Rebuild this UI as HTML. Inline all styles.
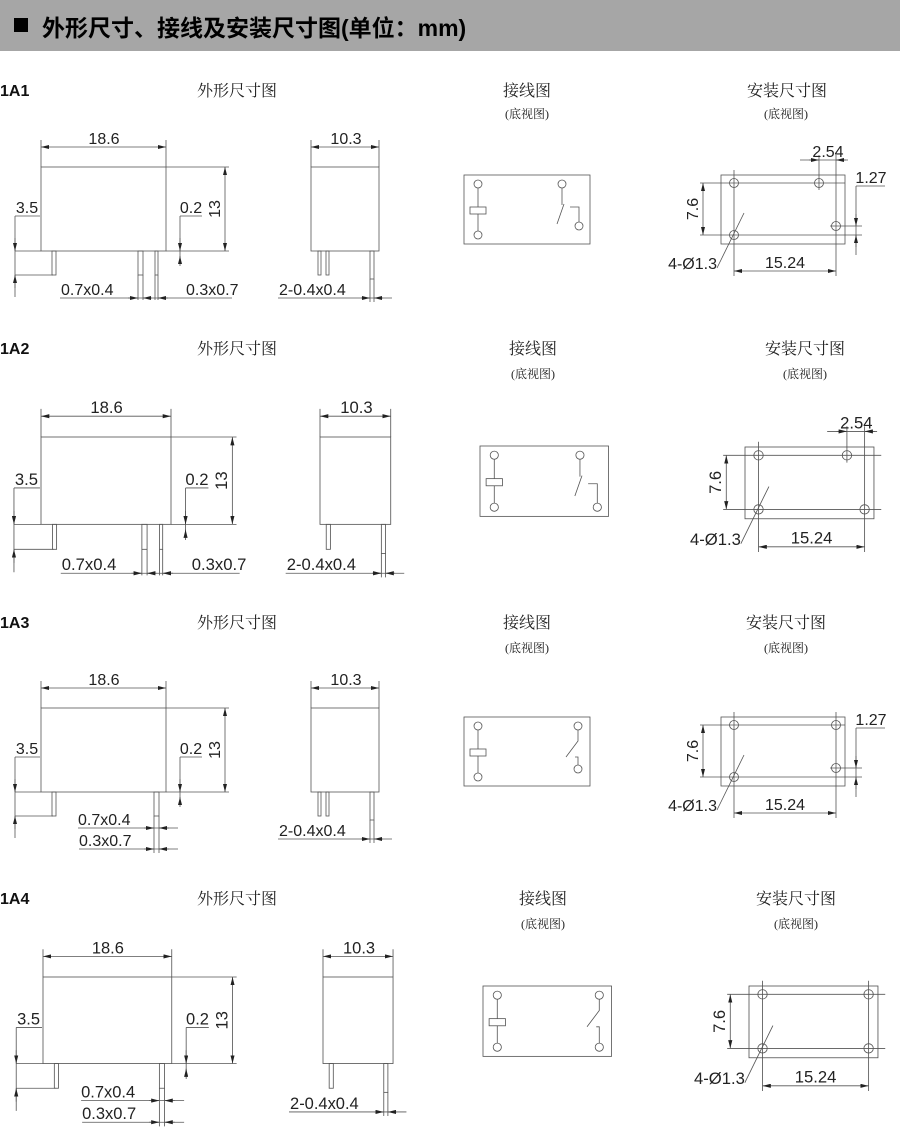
<!DOCTYPE html>
<html><head><meta charset="utf-8"><style>
html,body{margin:0;padding:0;background:#fff;}
svg{display:block;}
.d{font-family:"Liberation Sans Narrow","Liberation Sans",sans-serif;font-size:16px;fill:#222;}
.t{font-family:"Liberation Serif","Noto Serif CJK SC",serif;font-size:16px;fill:#222;}
.s{font-family:"Liberation Serif","Noto Serif CJK SC",serif;font-size:12px;fill:#222;}
.l{font-family:"Liberation Sans",sans-serif;font-size:16px;font-weight:bold;fill:#111;}
</style></head><body>
<svg width="900" height="1139" viewBox="0 0 900 1139" xmlns="http://www.w3.org/2000/svg">
<defs>
<marker id="a" viewBox="0 0 8 4" refX="8" refY="2" markerWidth="8" markerHeight="4" markerUnits="userSpaceOnUse" orient="auto-start-reverse"><path d="M0,0L8,2L0,4z" fill="#222"/></marker>
</defs>
<rect x="0" y="0" width="900" height="51" fill="#a6a6a6"/>
<rect x="14" y="18" width="14" height="14" fill="#000"/>
<text x="42" y="36" style="font-family:'Liberation Sans','Noto Sans CJK SC',sans-serif;font-size:23px;font-weight:bold;fill:#000">外形尺寸、接线及安装尺寸图(单位：mm)</text>

<!-- titles -->
<g>
<text class="l" x="0" y="96">1A1</text>
<text class="t" x="197" y="96">外形尺寸图</text>
<text class="t" x="527" y="96" text-anchor="middle">接线图</text>
<text class="t" x="787" y="96" text-anchor="middle">安装尺寸图</text>
<text class="s" x="527" y="118" text-anchor="middle">(底视图)</text>
<text class="s" x="786" y="118" text-anchor="middle">(底视图)</text>

<text class="l" x="0" y="354">1A2</text>
<text class="t" x="197" y="354">外形尺寸图</text>
<text class="t" x="533" y="354" text-anchor="middle">接线图</text>
<text class="t" x="805" y="354" text-anchor="middle">安装尺寸图</text>
<text class="s" x="533" y="378" text-anchor="middle">(底视图)</text>
<text class="s" x="805" y="378" text-anchor="middle">(底视图)</text>

<text class="l" x="0" y="628">1A3</text>
<text class="t" x="197" y="628">外形尺寸图</text>
<text class="t" x="527" y="628" text-anchor="middle">接线图</text>
<text class="t" x="786" y="628" text-anchor="middle">安装尺寸图</text>
<text class="s" x="527" y="652" text-anchor="middle">(底视图)</text>
<text class="s" x="786" y="652" text-anchor="middle">(底视图)</text>

<text class="l" x="0" y="904">1A4</text>
<text class="t" x="197" y="904">外形尺寸图</text>
<text class="t" x="543" y="904" text-anchor="middle">接线图</text>
<text class="t" x="796" y="904" text-anchor="middle">安装尺寸图</text>
<text class="s" x="543" y="928" text-anchor="middle">(底视图)</text>
<text class="s" x="796" y="928" text-anchor="middle">(底视图)</text>
</g>

<!-- ===== ROW 1 ===== -->
<g fill="none" stroke="#555" stroke-width="0.8">
 <!-- front A -->
 <g id="fa" fill="none" stroke="#555" stroke-width="0.8">
  <rect x="41" y="167" width="125" height="84"/>
  <path d="M41 140V167M166 140V167M166 167H229M166 251H229"/>
  <line x1="41" y1="147" x2="166" y2="147" marker-start="url(#a)" marker-end="url(#a)"/>
  <line x1="225" y1="167" x2="225" y2="251" marker-start="url(#a)" marker-end="url(#a)"/>
  <rect x="52" y="251" width="4" height="24"/>
  <rect x="138" y="251" width="5" height="24"/>
  <rect x="155" y="251" width="3" height="24"/>
  <path d="M15 216H40M15 216V297M15 251H41M15 275H53"/>
  <line x1="15" y1="238" x2="15" y2="251" marker-end="url(#a)"/>
  <line x1="15" y1="288" x2="15" y2="275" marker-end="url(#a)"/>
  <path d="M180 216H202M180 216V262"/>
  <line x1="180" y1="238" x2="180" y2="251" marker-end="url(#a)"/>
  <line x1="180" y1="266" x2="180" y2="256" marker-end="url(#a)"/>
  <path d="M138 275V300M143 275V300M155 275V300M158 275V300M60 298H232"/>
  <line x1="128" y1="298" x2="138" y2="298" marker-end="url(#a)"/>
  <line x1="152" y1="298" x2="143" y2="298" marker-end="url(#a)"/>
  <line x1="168" y1="298" x2="158" y2="298" marker-end="url(#a)"/>
 </g>
 <!-- side A -->
 <g>
  <rect x="311" y="167" width="68" height="84"/>
  <path d="M311 140V167M379 140V167"/>
  <line x1="311" y1="147" x2="379" y2="147" marker-start="url(#a)" marker-end="url(#a)"/>
  <rect x="318" y="251" width="3" height="24"/>
  <rect x="326" y="251" width="3" height="24"/>
  <rect x="370" y="251" width="4" height="28"/>
  <path d="M370 279V302M374 279V302M278 298H392"/>
  <line x1="361" y1="298" x2="370" y2="298" marker-end="url(#a)"/>
  <line x1="383" y1="298" x2="374" y2="298" marker-end="url(#a)"/>
 </g>
 <!-- wiring A -->
 <g>
  <rect x="464" y="175" width="126" height="69"/>
  <circle cx="478" cy="184" r="4"/><circle cx="478" cy="235" r="4"/>
  <circle cx="562" cy="184" r="4"/><circle cx="579" cy="226" r="4"/>
  <rect x="470" y="207" width="16" height="7"/>
  <path d="M478 188V207M478 214V231M562 188V205M557 224L564 204M570 207H579V222"/>
 </g>
 <!-- mount A -->
 <g>
  <rect x="721" y="175" width="124" height="69"/>
  <circle cx="734" cy="183" r="4.5"/><circle cx="819" cy="183" r="4.5"/>
  <circle cx="836" cy="226" r="4.5"/><circle cx="734" cy="235" r="4.5"/>
  <path d="M700 183H845M700 235H845M830 226H862M734 170V276M819 155V190M836 155V276M800 160H848"/>
  <line x1="703" y1="183" x2="703" y2="235" marker-start="url(#a)" marker-end="url(#a)"/>
  <line x1="734" y1="271" x2="836" y2="271" marker-start="url(#a)" marker-end="url(#a)"/>
  <line x1="809" y1="160" x2="819" y2="160" marker-end="url(#a)"/>
  <line x1="846" y1="160" x2="836" y2="160" marker-end="url(#a)"/>
  <path d="M856 186H885M856 186V255M845 235H862"/>
  <line x1="856" y1="214" x2="856" y2="226" marker-end="url(#a)"/>
  <line x1="856" y1="247" x2="856" y2="235" marker-end="url(#a)"/>
  <path d="M717 268L744 213"/>
 </g>
</g>
<g>
 <text class="d" x="104" y="144" text-anchor="middle">18.6</text>
 <text class="d" x="220" y="209" text-anchor="middle" transform="rotate(-90 220 209)">13</text>
 <text class="d" x="27" y="213" text-anchor="middle">3.5</text>
 <text class="d" x="191" y="213" text-anchor="middle">0.2</text>
 <text class="d" x="61" y="295">0.7x0.4</text>
 <text class="d" x="186" y="295">0.3x0.7</text>
 <text class="d" x="346" y="144" text-anchor="middle">10.3</text>
 <text class="d" x="279" y="295">2-0.4x0.4</text>
 <text class="d" x="698" y="209" text-anchor="middle" transform="rotate(-90 698 209)">7.6</text>
 <text class="d" x="828" y="157" text-anchor="middle">2.54</text>
 <text class="d" x="871" y="183" text-anchor="middle">1.27</text>
 <text class="d" x="785" y="268" text-anchor="middle">15.24</text>
 <text class="d" x="717" y="269" text-anchor="end">4-Ø1.3</text>
</g>

<!-- ===== ROW 2 ===== -->
<g transform="translate(41,437) scale(1.04) translate(-41,-167)">
 <use href="#fa"/>
 <text class="d" x="104" y="144" text-anchor="middle">18.6</text>
 <text class="d" x="220" y="209" text-anchor="middle" transform="rotate(-90 220 209)">13</text>
 <text class="d" x="27" y="213" text-anchor="middle">3.5</text>
 <text class="d" x="191" y="213" text-anchor="middle">0.2</text>
 <text class="d" x="61" y="295">0.7x0.4</text>
 <text class="d" x="186" y="295">0.3x0.7</text>
</g>
<g transform="translate(320,437) scale(1.04) translate(-311,-167)">
 <g id="sb" fill="none" stroke="#555" stroke-width="0.8">
  <rect x="311" y="167" width="68" height="84"/>
  <path d="M311 140V167M379 140V167"/>
  <line x1="311" y1="147" x2="379" y2="147" marker-start="url(#a)" marker-end="url(#a)"/>
  <rect x="317" y="251" width="4" height="24"/>
  <rect x="370" y="251" width="4" height="28"/>
  <path d="M370 279V302M374 279V302M278 298H392"/>
  <line x1="361" y1="298" x2="370" y2="298" marker-end="url(#a)"/>
  <line x1="383" y1="298" x2="374" y2="298" marker-end="url(#a)"/>
 </g>
 <text class="d" x="346" y="144" text-anchor="middle">10.3</text>
 <text class="d" x="279" y="295">2-0.4x0.4</text>
</g>
<g transform="translate(480,446) scale(1.02) translate(-464,-175)" fill="none" stroke="#555" stroke-width="0.8">
  <rect x="464" y="175" width="126" height="69"/>
  <circle cx="478" cy="184" r="4"/><circle cx="478" cy="235" r="4"/>
  <circle cx="562" cy="184" r="4"/><circle cx="579" cy="235" r="4"/>
  <rect x="470" y="207" width="16" height="7"/>
  <path d="M478 188V207M478 214V231M562 188V205M557 224L564 204M570 212H579V231"/>
</g>
<g transform="translate(745,447) scale(1.04) translate(-721,-175)">
 <g fill="none" stroke="#555" stroke-width="0.8">
  <rect x="721" y="175" width="124" height="69"/>
  <circle cx="734" cy="183" r="4.5"/><circle cx="819" cy="183" r="4.5"/>
  <circle cx="836" cy="235" r="4.5"/><circle cx="734" cy="235" r="4.5"/>
  <path d="M700 183H852M700 235H852M734 170V276M819 155V190M836 155V276M800 160H848"/>
  <line x1="703" y1="183" x2="703" y2="235" marker-start="url(#a)" marker-end="url(#a)"/>
  <line x1="734" y1="271" x2="836" y2="271" marker-start="url(#a)" marker-end="url(#a)"/>
  <line x1="809" y1="160" x2="819" y2="160" marker-end="url(#a)"/>
  <line x1="846" y1="160" x2="836" y2="160" marker-end="url(#a)"/>
  <path d="M717 268L744 213"/>
 </g>
 <text class="d" x="698" y="209" text-anchor="middle" transform="rotate(-90 698 209)">7.6</text>
 <text class="d" x="828" y="157" text-anchor="middle">2.54</text>
 <text class="d" x="785" y="268" text-anchor="middle">15.24</text>
 <text class="d" x="717" y="269" text-anchor="end">4-Ø1.3</text>
</g>

<!-- ===== ROW 3 ===== -->
<g transform="translate(0,541)">
 <g id="fb" fill="none" stroke="#555" stroke-width="0.8">
  <rect x="41" y="167" width="125" height="84"/>
  <path d="M41 140V167M166 140V167M166 167H229M166 251H229"/>
  <line x1="41" y1="147" x2="166" y2="147" marker-start="url(#a)" marker-end="url(#a)"/>
  <line x1="225" y1="167" x2="225" y2="251" marker-start="url(#a)" marker-end="url(#a)"/>
  <rect x="52" y="251" width="4" height="24"/>
  <rect x="154" y="251" width="5" height="24"/>
  <path d="M15 216H40M15 216V297M15 251H41M15 275H53"/>
  <line x1="15" y1="238" x2="15" y2="251" marker-end="url(#a)"/>
  <line x1="15" y1="288" x2="15" y2="275" marker-end="url(#a)"/>
  <path d="M180 216H202M180 216V262"/>
  <line x1="180" y1="238" x2="180" y2="251" marker-end="url(#a)"/>
  <line x1="180" y1="266" x2="180" y2="256" marker-end="url(#a)"/>
  <path d="M154 275V312M159 275V312M78 287H178M79 308H178"/>
  <line x1="144" y1="287" x2="154" y2="287" marker-end="url(#a)"/>
  <line x1="169" y1="287" x2="159" y2="287" marker-end="url(#a)"/>
  <line x1="144" y1="308" x2="154" y2="308" marker-end="url(#a)"/>
  <line x1="169" y1="308" x2="159" y2="308" marker-end="url(#a)"/>
 </g>
 <text class="d" x="104" y="144" text-anchor="middle">18.6</text>
 <text class="d" x="220" y="209" text-anchor="middle" transform="rotate(-90 220 209)">13</text>
 <text class="d" x="27" y="213" text-anchor="middle">3.5</text>
 <text class="d" x="191" y="213" text-anchor="middle">0.2</text>
 <text class="d" x="78" y="284">0.7x0.4</text>
 <text class="d" x="79" y="305">0.3x0.7</text>
 <g fill="none" stroke="#555" stroke-width="0.8">
  <rect x="311" y="167" width="68" height="84"/>
  <path d="M311 140V167M379 140V167"/>
  <line x1="311" y1="147" x2="379" y2="147" marker-start="url(#a)" marker-end="url(#a)"/>
  <rect x="318" y="251" width="3" height="24"/>
  <rect x="326" y="251" width="3" height="24"/>
  <rect x="370" y="251" width="4" height="28"/>
  <path d="M370 279V302M374 279V302M278 298H392"/>
  <line x1="361" y1="298" x2="370" y2="298" marker-end="url(#a)"/>
  <line x1="383" y1="298" x2="374" y2="298" marker-end="url(#a)"/>
 </g>
 <text class="d" x="346" y="144" text-anchor="middle">10.3</text>
 <text class="d" x="279" y="295">2-0.4x0.4</text>
</g>
<g transform="translate(0,542)">
 <g id="wb" fill="none" stroke="#555" stroke-width="0.8">
  <rect x="464" y="175" width="126" height="69"/>
  <circle cx="478" cy="184" r="4"/><circle cx="478" cy="235" r="4"/>
  <circle cx="578" cy="184" r="4"/><circle cx="578" cy="227" r="4"/>
  <rect x="470" y="207" width="16" height="7"/>
  <path d="M478 188V207M478 214V231M578 188V199L566 215M575 215H578V223"/>
 </g>
 <g fill="none" stroke="#555" stroke-width="0.8">
  <rect x="721" y="175" width="124" height="69"/>
  <circle cx="734" cy="183" r="4.5"/><circle cx="836" cy="183" r="4.5"/>
  <circle cx="836" cy="226" r="4.5"/><circle cx="734" cy="235" r="4.5"/>
  <path d="M700 183H845M700 235H845M830 226H862M734 170V276M836 170V276"/>
  <line x1="703" y1="183" x2="703" y2="235" marker-start="url(#a)" marker-end="url(#a)"/>
  <line x1="734" y1="271" x2="836" y2="271" marker-start="url(#a)" marker-end="url(#a)"/>
  <path d="M856 186H885M856 186V255M845 235H862"/>
  <line x1="856" y1="214" x2="856" y2="226" marker-end="url(#a)"/>
  <line x1="856" y1="247" x2="856" y2="235" marker-end="url(#a)"/>
  <path d="M717 268L744 213"/>
 </g>
 <text class="d" x="698" y="209" text-anchor="middle" transform="rotate(-90 698 209)">7.6</text>
 <text class="d" x="871" y="183" text-anchor="middle">1.27</text>
 <text class="d" x="785" y="268" text-anchor="middle">15.24</text>
 <text class="d" x="717" y="269" text-anchor="end">4-Ø1.3</text>
</g>

<!-- ===== ROW 4 ===== -->
<g transform="translate(43,977) scale(1.03) translate(-41,-167)">
 <use href="#fb"/>
 <text class="d" x="104" y="144" text-anchor="middle">18.6</text>
 <text class="d" x="220" y="209" text-anchor="middle" transform="rotate(-90 220 209)">13</text>
 <text class="d" x="27" y="213" text-anchor="middle">3.5</text>
 <text class="d" x="191" y="213" text-anchor="middle">0.2</text>
 <text class="d" x="78" y="284">0.7x0.4</text>
 <text class="d" x="79" y="305">0.3x0.7</text>
</g>
<g transform="translate(323,977) scale(1.03) translate(-311,-167)">
 <use href="#sb"/>
 <text class="d" x="346" y="144" text-anchor="middle">10.3</text>
 <text class="d" x="279" y="295">2-0.4x0.4</text>
</g>
<g transform="translate(483,986) scale(1.02) translate(-464,-175)">
 <g fill="none" stroke="#555" stroke-width="0.8">
  <rect x="464" y="175" width="126" height="69"/>
  <circle cx="478" cy="184" r="4"/><circle cx="478" cy="235" r="4"/>
  <circle cx="578" cy="184" r="4"/><circle cx="578" cy="235" r="4"/>
  <rect x="470" y="207" width="16" height="7"/>
  <path d="M478 188V207M478 214V231M578 188V199L566 215M575 215H578V231"/>
 </g>
</g>
<g transform="translate(749,986) scale(1.04) translate(-721,-175)">
 <g fill="none" stroke="#555" stroke-width="0.8">
  <rect x="721" y="175" width="124" height="69"/>
  <circle cx="734" cy="183" r="4.5"/><circle cx="836" cy="183" r="4.5"/>
  <circle cx="836" cy="235" r="4.5"/><circle cx="734" cy="235" r="4.5"/>
  <path d="M700 183H852M700 235H852M734 170V276M836 170V276"/>
  <line x1="703" y1="183" x2="703" y2="235" marker-start="url(#a)" marker-end="url(#a)"/>
  <line x1="734" y1="271" x2="836" y2="271" marker-start="url(#a)" marker-end="url(#a)"/>
  <path d="M717 268L744 213"/>
 </g>
 <text class="d" x="698" y="209" text-anchor="middle" transform="rotate(-90 698 209)">7.6</text>
 <text class="d" x="785" y="268" text-anchor="middle">15.24</text>
 <text class="d" x="717" y="269" text-anchor="end">4-Ø1.3</text>
</g>
</svg>
</body></html>
